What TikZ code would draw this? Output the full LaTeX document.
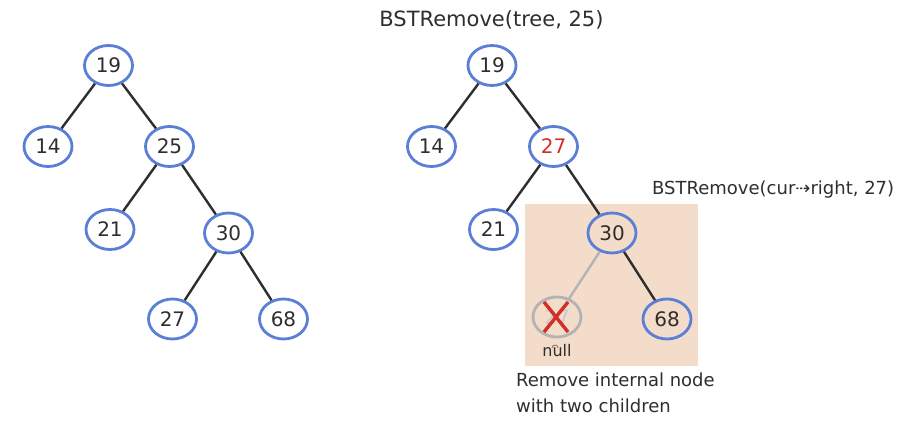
\documentclass[tikz,border=0pt]{standalone}
\usepackage{fontspec}
\setmainfont{DejaVu Sans}
\usetikzlibrary{shapes.geometric}
\definecolor{nodeblue}{HTML}{5B7FD6}
\definecolor{edgec}{HTML}{2E2E2E}
\definecolor{peach}{HTML}{F3DCCA}
\definecolor{greyc}{HTML}{B3B3B3}
\definecolor{redx}{HTML}{D22F27}
\begin{document}
\begin{tikzpicture}[x=1pt,y=-1pt,
  tn/.style={ellipse, draw=nodeblue, line width=2.8pt, minimum width=48pt, minimum height=40pt, inner sep=0pt, font=\fontsize{20}{20}\selectfont, text=edgec},
  gn/.style={tn, draw=greyc, text=greyc!70},
  edge/.style={draw=edgec, line width=2.4pt},
  gedge/.style={draw=greyc, line width=2.4pt},
  lbl/.style={font=\fontsize{18}{26}\selectfont, text=edgec, inner sep=0pt}]
\useasboundingbox (0,0) rectangle (908,446);
\fill[peach] (525,204) rectangle (698,366);
% left tree
\node[tn] (a19) at (108.5,65.5) {19};
\node[tn] (a14) at (48,146.5) {14};
\node[tn] (a25) at (169.5,146.5) {25};
\node[tn] (a21) at (110,229.5) {21};
\node[tn] (a30) at (228.5,233) {30};
\node[tn] (a27) at (172.5,319) {27};
\node[tn] (a68) at (283.5,319) {68};
\draw[edge] (a19) -- (a14);
\draw[edge] (a19) -- (a25);
\draw[edge] (a25) -- (a21);
\draw[edge] (a25) -- (a30);
\draw[edge] (a30) -- (a27);
\draw[edge] (a30) -- (a68);
% right tree
\node[tn] (b19) at (492,65.5) {19};
\node[tn] (b14) at (431.5,146.5) {14};
\node[tn, text=redx] (b27) at (553.5,146.5) {27};
\node[tn] (b21) at (493.5,229.5) {21};
\node[tn] (b30) at (612,233) {30};
\node[gn] (bnull) at (557,317) {27};
\node[tn] (b68) at (667,319) {68};
\draw[edge] (b19) -- (b14);
\draw[edge] (b19) -- (b27);
\draw[edge] (b27) -- (b21);
\draw[edge] (b27) -- (b30);
\draw[gedge] (b30) -- (bnull);
\draw[edge] (b30) -- (b68);
\draw[redx, line width=3.4pt] ([shift={(-13,-15)}]bnull.center) -- ([shift={(11,15)}]bnull.center)
  ([shift={(11,-15)}]bnull.center) -- ([shift={(-13,15)}]bnull.center);
\node[lbl, font=\fontsize{16}{16}\selectfont, anchor=base] (nulllbl) at (557,357) {null};
\draw[greyc!70!black, line width=0.9pt] (552,348) arc[start angle=180, end angle=0, radius=3pt];
% labels
\node[lbl, font=\fontsize{21}{21}\selectfont, anchor=base] (t1) at (491.5,27) {BSTRemove(tree, 25)};
\node[lbl, anchor=base west] (t2) at (652,195) {BSTRemove(cur⇢right, 27)};
\node[lbl, anchor=north west, align=left] (t3) at (516,372.3) {Remove internal node\\with two children};
\end{tikzpicture}
\end{document}
